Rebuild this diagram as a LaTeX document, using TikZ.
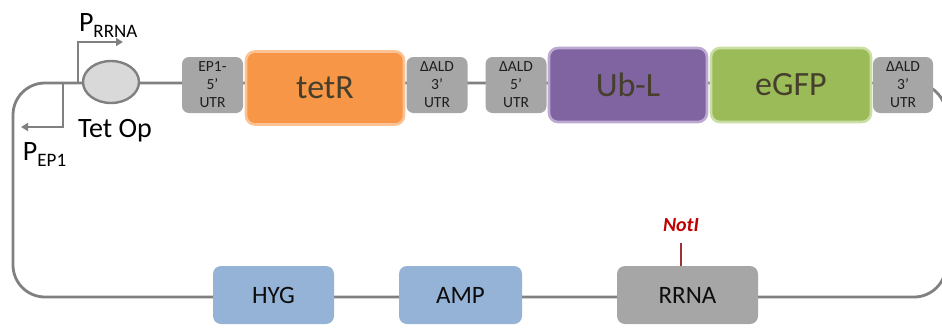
\documentclass[tikz,border=0pt]{standalone}
\usepackage{fontspec}
\setmainfont{Carlito}
\usetikzlibrary{arrows.meta,shapes.geometric}

\definecolor{backbone}{HTML}{808080}
\definecolor{utrgray}{HTML}{A6A6A6}
\definecolor{opfill}{HTML}{D9D9D9}
\definecolor{markerblue}{HTML}{95B3D7}
\definecolor{tetorange}{HTML}{F79646}
\definecolor{tetedge}{HTML}{FBC393}
\definecolor{ubpurple}{HTML}{8064A2}
\definecolor{ubedge}{HTML}{BBA9D2}
\definecolor{gfpgreen}{HTML}{9BBB59}
\definecolor{gfpedge}{HTML}{CADDA3}
\definecolor{genetext}{HTML}{453F2C}
\definecolor{smalltext}{HTML}{1E1E1E}
\definecolor{sitered}{HTML}{C00000}
\definecolor{siteline}{HTML}{9B3331}

\tikzset{
  x=1pt, y=-1pt,
  every node/.style={inner sep=0pt, outer sep=0pt},
  dna/.style={draw=backbone, line width=2.8pt, rounded corners=32pt},
  utrbox/.style={fill=utrgray, rounded corners=7pt, minimum width=61pt,
    minimum height=56pt, align=center, text=smalltext,
    font=\fontsize{15.5}{18}\selectfont},
  genebox/.style={rounded corners=9pt, minimum width=158pt, minimum height=74pt,
    line width=2.6pt, text=genetext, font=\fontsize{34}{34}\selectfont},
  markerbox/.style={rounded corners=8pt, minimum height=58pt, text=black!95,
    font=\fontsize{25}{25}\selectfont},
  promoter/.style={draw=backbone, line width=2.6pt,
    -{Triangle[length=7pt,width=8pt]}},
  plabel/.style={font=\fontsize{28}{28}\selectfont, anchor=base west},
}

\newcommand{\subtxt}[1]{\raisebox{-6.5pt}{\fontsize{19}{19}\selectfont #1}}

\begin{document}
\begin{tikzpicture}
\useasboundingbox (0,0) rectangle (942,327);

% plasmid backbone as a closed loop
\draw[dna] (13,83) rectangle (946,297);

% promoter arrows leaving the backbone
\coordinate (prrna) at (78,83);
\coordinate (prrnatip) at (123,42);
\coordinate (pep) at (63,83);
\coordinate (peptip) at (21,127);
\draw[promoter] (prrna) |- (prrnatip);
\draw[promoter] (pep) |- (peptip);

\node[plabel] (lrrna) at (79,31) {P\subtxt{RRNA}};
\node[plabel] (lep) at (23,160) {P\subtxt{EP1}};

% operator
\node[ellipse, draw=backbone, fill=opfill, line width=2.4pt,
  minimum width=56pt, minimum height=42pt] (tetop) at (111,82) {};
\node[plabel] (ltetop) at (78,137) {Tet Op};

% upper cassette
\node[utrbox] (ep1) at (212.5,85) {EP1-\\5’\\UTR};
\node[genebox, fill=tetorange, draw=tetedge, minimum width=158pt,
  minimum height=73pt] (tetr) at (325,88) {tetR};
\node[utrbox] (ald3a) at (437,85) {ΔALD\\3’\\UTR};
\node[utrbox] (ald5) at (516,85) {ΔALD\\5’\\UTR};
\node[genebox, fill=ubpurple, draw=ubedge] (ubl) at (628,85) {Ub-L};
\node[genebox, fill=gfpgreen, draw=gfpedge, minimum width=160pt] (egfp) at (791,85) {eGFP};
\node[utrbox, minimum width=60pt] (ald3b) at (903,85) {ΔALD\\3’\\UTR};

% lower cassette
\node[markerbox, fill=markerblue, minimum width=121pt] (hyg) at (273.5,295) {HYG};
\node[markerbox, fill=markerblue, minimum width=123pt] (amp) at (460.5,295) {AMP};
\node[markerbox, fill=utrgray, minimum width=141pt] (rrna) at (687.5,295) {RRNA};

% NotI restriction site
\node[font=\fontsize{20}{20}\selectfont\bfseries\itshape, text=sitered]
  (noti) at (681,225) {NotI};
\coordinate (notitop) at (681,243);
\draw[siteline, line width=2pt] (notitop) -- (rrna.north -| notitop);

\end{tikzpicture}
\end{document}
